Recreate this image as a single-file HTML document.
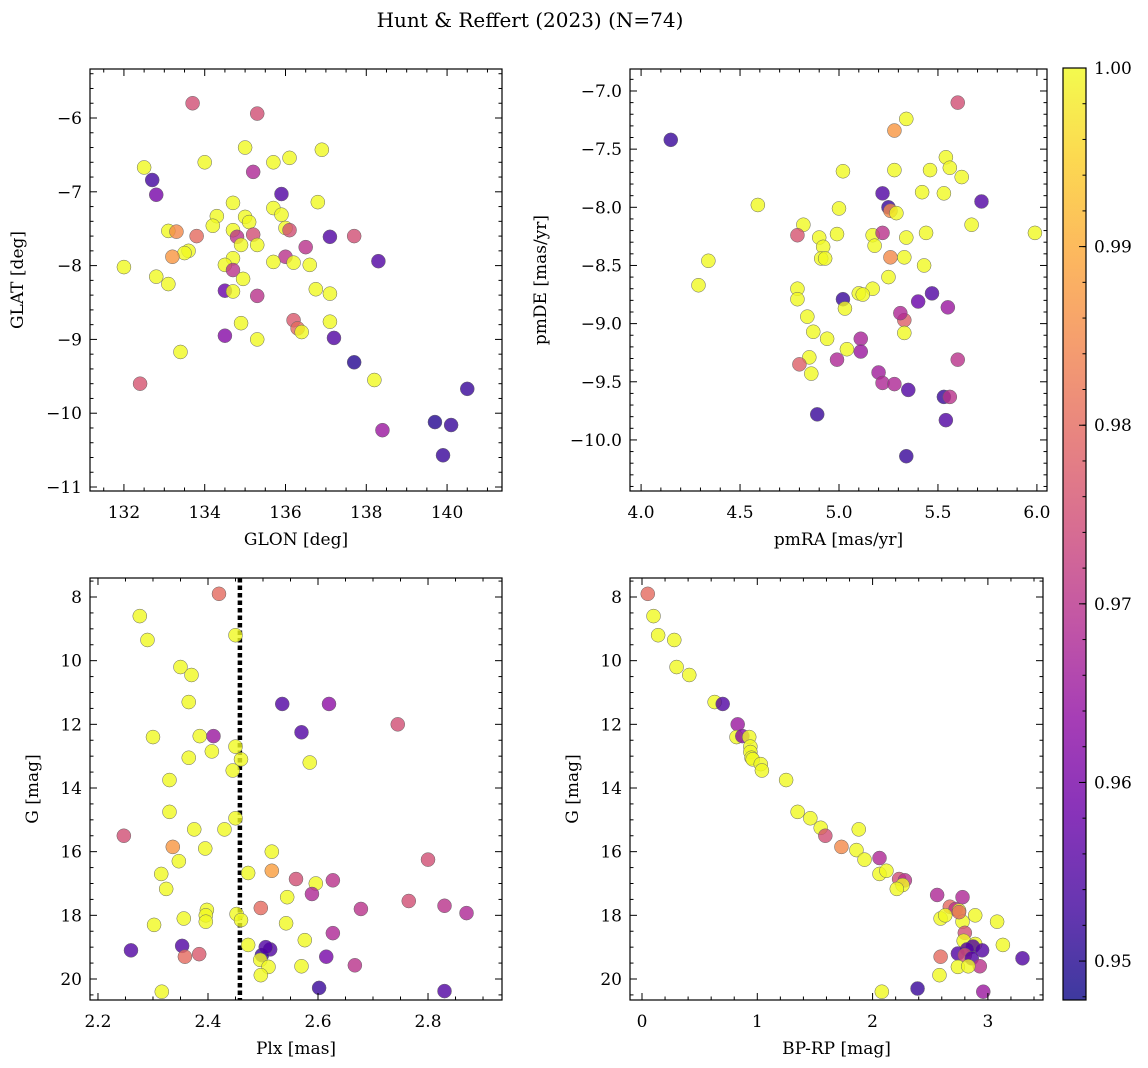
<!DOCTYPE html>
<html><head><meta charset="utf-8"><style>
html,body{margin:0;padding:0;background:#fff;}
svg{display:block;font-family:"DejaVu Serif","Liberation Serif",serif;}
</style></head><body>
<svg id="fig" width="1148" height="1068" viewBox="0 0 1148 1068" xmlns="http://www.w3.org/2000/svg">
<defs><linearGradient id="plasma" x1="0" y1="1" x2="0" y2="0"></linearGradient></defs>
<text x="530" y="27" text-anchor="middle" font-size="20">Hunt &amp; Reffert (2023) (N=74)</text>
</svg>
<script>
// Panel 1: GLON vs GLAT
const p1x=[133.7,135.3,132.5,132.7,132.8,134.0,135.0,135.7,136.1,136.9,135.2,135.9,134.7,136.8,134.3,135.0,135.1,135.7,135.9,134.2,133.1,133.3,133.8,134.7,134.8,135.2,136.0,136.1,137.1,137.7,134.9,135.3,133.6,133.5,133.2,136.0,136.5,134.7,135.7,136.2,136.6,134.5,134.7,138.3,132.0,132.8,134.95,133.1,134.5,134.7,136.75,137.1,135.3,136.2,136.3,136.4,134.9,137.1,134.5,135.3,137.2,133.4,137.7,132.4,138.2,140.5,139.7,140.1,138.4,139.9];
const p1y=[-5.80,-5.94,-6.67,-6.84,-7.04,-6.6,-6.4,-6.6,-6.54,-6.43,-6.73,-7.03,-7.15,-7.14,-7.33,-7.34,-7.41,-7.22,-7.31,-7.46,-7.53,-7.54,-7.6,-7.52,-7.61,-7.58,-7.49,-7.52,-7.61,-7.6,-7.72,-7.72,-7.8,-7.83,-7.88,-7.88,-7.75,-7.9,-7.95,-7.96,-7.99,-7.99,-8.06,-7.94,-8.02,-8.15,-8.18,-8.25,-8.34,-8.35,-8.32,-8.38,-8.41,-8.74,-8.85,-8.9,-8.78,-8.76,-8.95,-9.0,-8.98,-9.17,-9.31,-9.6,-9.55,-9.67,-10.12,-10.16,-10.23,-10.57];
const p1c=[0.975,0.975,1,0.953,0.96,1,1,1,1,1,0.968,0.955,1,1,1,1,1,1,1,1,1,0.985,0.98,1,0.97,0.975,1,0.975,0.955,0.975,1,1,1,1,0.987,0.97,0.97,1,1,1,1,1,0.97,0.955,1,1,1,1,0.958,1,1,1,0.97,0.977,0.98,1,1,1,0.962,1,0.955,1,0.95,0.976,1,0.952,0.95,0.952,0.965,0.952];
// Panel 2: pmRA vs pmDE
const p2x=[4.15,5.6,5.28,5.34,5.54,5.46,5.56,5.62,5.28,5.02,5.42,5.53,5.22,5.72,4.59,5.25,5.26,5.29,5.0,5.67,4.82,4.79,4.99,4.9,5.17,5.22,5.44,5.34,5.99,5.18,4.92,4.91,4.93,5.26,5.33,4.34,5.43,5.25,4.29,5.17,5.1,5.12,4.79,4.79,5.02,5.47,5.4,5.03,5.55,4.84,5.33,5.31,4.87,5.33,5.11,4.94,5.11,5.04,4.85,4.99,5.6,5.2,4.86,4.8,5.22,5.28,5.35,5.53,5.56,4.89,5.54,5.34];
const p2y=[-7.42,-7.1,-7.34,-7.24,-7.57,-7.68,-7.66,-7.74,-7.68,-7.69,-7.87,-7.88,-7.88,-7.95,-7.98,-8.0,-8.03,-8.05,-8.01,-8.15,-8.15,-8.24,-8.23,-8.26,-8.24,-8.22,-8.22,-8.26,-8.22,-8.33,-8.34,-8.44,-8.44,-8.43,-8.43,-8.46,-8.5,-8.6,-8.67,-8.7,-8.74,-8.75,-8.7,-8.79,-8.79,-8.74,-8.81,-8.87,-8.86,-8.94,-8.97,-8.91,-9.07,-9.08,-9.13,-9.13,-9.24,-9.22,-9.29,-9.31,-9.31,-9.42,-9.43,-9.35,-9.51,-9.52,-9.57,-9.63,-9.63,-9.78,-9.83,-10.14];
const p2c=[0.952,0.975,0.987,1,1,1,1,1,1,1,1,1,0.955,0.955,1,0.952,0.985,1,1,1,1,0.976,1,1,1,0.97,1,1,1,1,1,1,1,0.985,1,1,1,1,1,1,1,1,1,1,0.952,0.955,0.958,1,0.965,1,0.978,0.968,1,1,0.967,1,0.965,1,1,0.968,0.97,0.966,1,0.978,0.968,0.968,0.955,0.952,0.97,0.952,0.955,0.952];
// Panel 3: Plx vs G
const p3x=[2.42,2.276,2.45,2.29,2.35,2.37,2.365,2.535,2.62,2.745,2.3,2.385,2.41,2.57,2.45,2.46,2.365,2.407,2.585,2.445,2.33,2.33,2.45,2.43,2.375,2.247,2.336,2.395,2.516,2.347,2.8,2.516,2.473,2.315,2.56,2.627,2.596,2.324,2.589,2.544,2.765,2.83,2.496,2.678,2.398,2.452,2.396,2.356,2.46,2.396,2.87,2.542,2.302,2.627,2.576,2.473,2.353,2.513,2.26,2.498,2.384,2.358,2.615,2.495,2.51,2.57,2.667,2.496,2.602,2.316,2.83,2.505];
const p3y=[7.9,8.6,9.2,9.35,10.2,10.45,11.3,11.36,11.36,12.0,12.4,12.37,12.37,12.25,12.7,13.1,13.05,12.85,13.2,13.45,13.75,14.75,14.95,15.3,15.3,15.5,15.85,15.9,16.0,16.3,16.25,16.6,16.67,16.7,16.86,16.9,17.0,17.17,17.33,17.43,17.55,17.7,17.77,17.8,17.83,17.96,18.0,18.1,18.15,18.2,17.93,18.25,18.3,18.56,18.78,18.93,18.96,19.07,19.1,19.25,19.22,19.3,19.3,19.4,19.62,19.6,19.57,19.88,20.28,20.4,20.38,19.0];
const p3c=[0.98,1,1,1,1,1,1,0.955,0.963,0.975,1,1,0.965,0.955,1,1,1,1,1,1,1,1,1,1,1,0.975,0.987,1,1,1,0.975,0.988,1,1,0.975,0.97,1,1,0.968,1,0.975,0.97,0.98,0.97,1,1,1,1,1,1,0.968,1,1,0.968,1,1,0.955,0.955,0.955,0.952,0.977,0.98,0.96,1,1,1,0.97,1,0.952,1,0.955,0.955];
// Panel 4: BP-RP vs G
const p4x=[0.05,0.1,0.14,0.28,0.3,0.41,0.63,0.7,0.83,0.82,0.87,0.93,0.94,0.94,0.95,0.96,1.03,1.04,1.25,1.35,1.46,1.55,1.59,1.88,1.73,1.86,1.93,2.06,2.06,2.12,2.23,2.28,2.26,2.21,2.56,2.78,2.67,2.72,2.75,2.59,2.63,2.89,3.08,2.78,2.8,2.79,3.13,2.89,2.87,2.82,2.95,2.74,2.8,2.59,2.86,3.3,2.93,2.74,2.83,2.58,2.39,2.96,2.08,2.75];
const p4y=[7.9,8.6,9.2,9.35,10.2,10.45,11.3,11.36,12.0,12.4,12.37,12.4,12.7,12.87,13.05,13.1,13.25,13.45,13.75,14.75,14.95,15.25,15.5,15.3,15.85,15.95,16.25,16.2,16.7,16.6,16.86,16.9,17.05,17.17,17.36,17.43,17.73,17.8,17.85,18.1,18.0,18.0,18.2,18.2,18.55,18.8,18.93,18.9,18.98,19.07,19.1,19.2,19.25,19.3,19.35,19.35,19.6,19.62,19.6,19.88,20.3,20.4,20.4,17.9];
const p4c=[0.98,1,1,1,1,1,1,0.955,0.965,1,0.962,1,1,1,1,1,1,1,1,1,1,1,0.975,1,0.985,1,1,0.968,1,1,0.975,0.97,1,1,0.968,0.968,0.98,0.97,1,1,1,1,1,1,0.975,1,1,1,0.955,0.955,0.955,0.955,0.975,0.98,0.955,0.955,0.97,1,1,1,0.952,0.965,1,0.98];
// colour scale
const cmin=0.94782, cmax=1.0;
const cbTicks=[0.95,0.96,0.97,0.98,0.99,1.00];

const NS="http://www.w3.org/2000/svg";
const svg=document.getElementById('fig');
const stops=[[13,8,135],[65,4,157],[106,0,168],[143,13,164],[177,42,144],[204,71,120],[225,100,98],[242,132,75],[252,166,54],[252,206,37],[240,249,33]];
function plasma(t){t=Math.max(0,Math.min(1,t));const f=t*10,i=Math.min(9,Math.floor(f)),r=f-i;const a=stops[i],b=stops[i+1];return `rgb(${Math.round(a[0]+(b[0]-a[0])*r)},${Math.round(a[1]+(b[1]-a[1])*r)},${Math.round(a[2]+(b[2]-a[2])*r)})`;}
function el(tag,attrs,parent){const e=document.createElementNS(NS,tag);for(const k in attrs)e.setAttribute(k,attrs[k]);(parent||svg).appendChild(e);return e;}
function fmt(v,d){return (v<0?'\u2212':'')+Math.abs(v).toFixed(d);}

function panel(o){
  const g=el('g',{});
  
  
  const sx=v=>o.L+(v-o.x0)/(o.x1-o.x0)*(o.R-o.L);
  const sy=v=>o.T+(v-o.y0)/(o.y1-o.y0)*(o.B-o.T);
  if(o.vline!==undefined){const l=el('line',{x1:sx(o.vline),x2:sx(o.vline),y1:o.T,y2:o.B,stroke:'#000','stroke-width':4.5,'stroke-dasharray':'4.5,3'},g);
    
    }
  for(let i=0;i<o.xs.length;i++){
    const c=el('circle',{cx:sx(o.xs[i]),cy:sy(o.ys[i]),r:7,fill:plasma((o.cs[i]-cmin)/(cmax-cmin)),'fill-opacity':0.8,stroke:'#666','stroke-width':0.5},g);
    
    
  }
  el('rect',{x:o.L,y:o.T,width:o.R-o.L,height:o.B-o.T,fill:'none',stroke:'#000','stroke-width':1.2},g);
  const eps=1e-9;
  for(let v=Math.ceil(o.x0/o.xmin-eps)*o.xmin;v<=o.x1+eps;v+=o.xmin){
    const vv=Math.round(v/o.xmin)*o.xmin;const major=Math.abs(vv/o.xmaj-Math.round(vv/o.xmaj))<1e-6;const len=major?7:3.5;const x=sx(vv);
    el('line',{x1:x,x2:x,y1:o.B,y2:o.B-len,stroke:'#000','stroke-width':1},g);
    el('line',{x1:x,x2:x,y1:o.T,y2:o.T+len,stroke:'#000','stroke-width':1},g);
    if(major){const t=el('text',{x:x,y:o.B+27,'text-anchor':'middle','font-size':17},g);t.textContent=fmt(vv,o.xd);
      
      }
  }
  const ylo=Math.min(o.y0,o.y1),yhi=Math.max(o.y0,o.y1);
  for(let v=Math.ceil(ylo/o.ymin-eps)*o.ymin;v<=yhi+eps;v+=o.ymin){
    const vv=Math.round(v/o.ymin)*o.ymin;const major=Math.abs(vv/o.ymaj-Math.round(vv/o.ymaj))<1e-6;const len=major?7:3.5;const y=sy(vv);
    el('line',{x1:o.L,x2:o.L+len,y1:y,y2:y,stroke:'#000','stroke-width':1},g);
    el('line',{x1:o.R,x2:o.R-len,y1:y,y2:y,stroke:'#000','stroke-width':1},g);
    if(major){const t=el('text',{x:o.L-8,y:y+6,'text-anchor':'end','font-size':17},g);t.textContent=fmt(vv,o.yd);
      
      }
  }
  const xl=el('text',{x:(o.L+o.R)/2,y:o.B+54,'text-anchor':'middle','font-size':17},g);xl.textContent=o.xlab;
  
  
  const yl=el('text',{x:0,y:0,'text-anchor':'middle','font-size':17,transform:`translate(${o.ylx},${(o.T+o.B)/2}) rotate(-90)`},g);yl.textContent=o.ylab;
  
  
}
panel({name:'glon-glat-panel',L:90,R:502,T:69,B:491,x0:131.16,x1:141.36,y0:-5.336,y1:-11.054,xs:p1x,ys:p1y,cs:p1c,xmaj:2,xmin:0.5,ymaj:1,ymin:0.2,xd:0,yd:0,xlab:'GLON [deg]',ylab:'GLAT [deg]',ylx:23});
panel({name:'proper-motion-panel',L:630,R:1047,T:69,B:491,x0:3.944,x1:6.051,y0:-6.811,y1:-10.439,xs:p2x,ys:p2y,cs:p2c,xmaj:0.5,xmin:0.1,ymaj:0.5,ymin:0.1,xd:1,yd:1,xlab:'pmRA [mas/yr]',ylab:'pmDE [mas/yr]',ylx:546});
panel({name:'plx-g-panel',L:90,R:502,T:578,B:1000,x0:2.1855,x1:2.9345,y0:7.403,y1:20.66,xs:p3x,ys:p3y,cs:p3c,xmaj:0.2,xmin:0.05,ymaj:2,ymin:0.5,xd:1,yd:0,xlab:'Plx [mas]',ylab:'G [mag]',ylx:38,vline:2.458});
panel({name:'cmd-panel',L:630,R:1043,T:578,B:1000,x0:-0.104,x1:3.478,y0:7.403,y1:20.66,xs:p4x,ys:p4y,cs:p4c,xmaj:1,xmin:0.2,ymaj:2,ymin:0.5,xd:0,yd:0,xlab:'BP-RP [mag]',ylab:'G [mag]',ylx:578});

// colorbar
const grad=document.getElementById('plasma');
for(let i=0;i<=10;i++){el('stop',{offset:(i*10)+'%','stop-color':plasma(i/10)},grad);}
const cbL=1063,cbR=1086,cbT=68,cbB=1000;
const cb=el('g',{});


el('rect',{x:cbL,y:cbT,width:cbR-cbL,height:cbB-cbT,fill:'url(#plasma)','fill-opacity':0.8},cb);
el('rect',{x:cbL,y:cbT,width:cbR-cbL,height:cbB-cbT,fill:'none',stroke:'#000','stroke-width':1.2},cb);
const cy=v=>cbB-(v-cmin)/(cmax-cmin)*(cbB-cbT);
for(let k=Math.ceil(cmin/0.002);k*0.002<=cmax+1e-9;k++){const v=k*0.002;const y=cy(v);el('line',{x1:cbR,x2:cbR-3.5,y1:y,y2:y,stroke:'#000','stroke-width':1},cb);}
cbTicks.forEach(v=>{const y=cy(v);el('line',{x1:cbR,x2:cbR-7,y1:y,y2:y,stroke:'#000','stroke-width':1},cb);
  const t=el('text',{x:cbR+8,y:y+6,'font-size':17},cb);t.textContent=v.toFixed(2);
  
  });
</script>
</body></html>
